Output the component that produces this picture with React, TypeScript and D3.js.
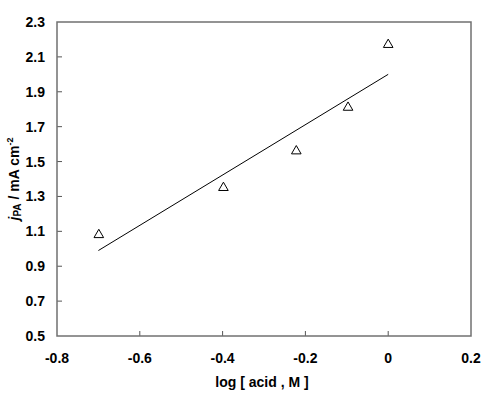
import React from "react";
import * as d3 from "d3";

const xVals = [-0.699, -0.398, -0.222, -0.097, 0];
const yVals = [1.08, 1.35, 1.56, 1.81, 2.17];
const fitX = [-0.7, 0];
const fitY = [0.99, 2.0];
const xTicks = [-0.8, -0.6, -0.4, -0.2, 0, 0.2];
const yTicks = [0.5, 0.7, 0.9, 1.1, 1.3, 1.5, 1.7, 1.9, 2.1, 2.3];

export default function App() {
  const W = 500, H = 395;
  const L = 57, R = 471, T = 22, B = 336;
  const x = d3.scaleLinear().domain([-0.8, 0.2]).range([L, R]);
  const y = d3.scaleLinear().domain([0.5, 2.3]).range([B, T]);
  const line = d3.line<number>().x((d, i) => x(fitX[i])).y((d) => y(d));
  const tri = d3.symbol().type(d3.symbolTriangle).size(40)();
  const font = "'Liberation Sans', Arial, sans-serif";
  return (
    <svg width={W} height={H} style={{ position: "absolute", left: 0, top: 0 }} fontFamily={font}>
      <rect x={0} y={0} width={W} height={H} fill="#fff" />
      {yTicks.map((t) => (
        <g key={"y" + t}>
          {t !== 0.5 && t !== 2.3 && <line x1={L} x2={L + 5} y1={y(t)} y2={y(t)} stroke="#555" />}
          <text x={45} y={y(t)} dy="0.36em" textAnchor="end" fontSize={14} fontWeight="bold">
            {t.toFixed(1)}
          </text>
        </g>
      ))}
      {xTicks.map((t) => (
        <g key={"x" + t}>
          {t !== -0.8 && t !== 0.2 && <line x1={x(t)} x2={x(t)} y1={B} y2={B - 5} stroke="#555" />}
          <text x={x(t)} y={363} textAnchor="middle" fontSize={14} fontWeight="bold">
            {t === 0 ? "0" : t.toFixed(1)}
          </text>
        </g>
      ))}
      <rect x={L} y={T} width={R - L} height={B - T} fill="none" stroke="#707070" strokeWidth={1.5} />
      <path d={line(fitY) || ""} fill="none" stroke="#000" strokeWidth={1} />
      {xVals.map((v, i) => (
        <path key={i} d={tri} transform={`translate(${x(v)},${y(yVals[i])})`} fill="none" stroke="#000" strokeWidth={1} />
      ))}
      <text x={262} y={387} textAnchor="middle" fontSize={14} fontWeight="bold">
        log [ acid , M ]
      </text>
      <text transform={`translate(19,${(T + B) / 2}) rotate(-90)`} textAnchor="middle" fontSize={14} fontWeight="bold">
        <tspan fontStyle="italic">j</tspan>
        <tspan fontSize={10} dy={2}>PA</tspan>
        <tspan dy={-2}> / mA cm</tspan>
        <tspan fontSize={9} dy={-6}>-2</tspan>
      </text>
    </svg>
  );
}
